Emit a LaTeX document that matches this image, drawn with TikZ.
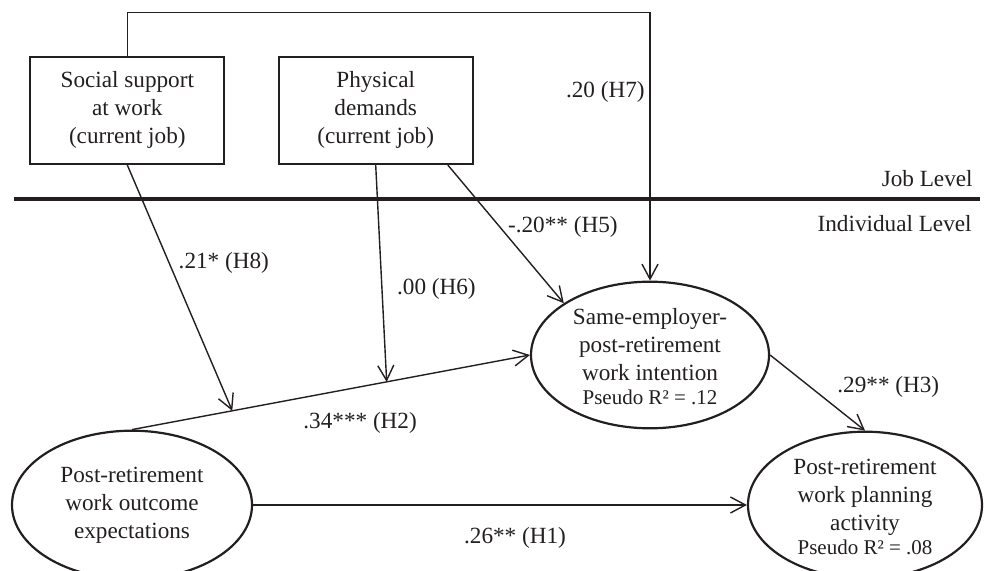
\documentclass[tikz,border=0pt]{standalone}
\usepackage{fontspec}
\setmainfont{Liberation Serif}
\usetikzlibrary{arrows.meta,shapes.geometric,calc}
\definecolor{ink}{HTML}{231F20}
\begin{document}
\begin{tikzpicture}[x=0.5pt,y=-0.5pt,
  every node/.style={text=ink},
  mainfont/.style={font=\fontsize{11.6}{14}\selectfont},
  boxnode/.style={draw=ink,line width=1.1pt,rectangle,minimum width=97pt,minimum height=53.6pt,inner sep=0pt,align=center,mainfont},
  ellnode/.style={draw=ink,line width=1.1pt,ellipse,inner sep=0pt},
  elltext/.style={align=center,mainfont,inner sep=0pt},
  lab/.style={mainfont,inner sep=0pt},
  arr/.style={draw=ink,line width=0.7pt,-{Straight Barb[length=7.5pt,width=8pt]}},
  pseudo/.style={font=\fontsize{10.5}{12}\selectfont}
]
\useasboundingbox (0,0) rectangle (984,571);
% boxes
\node[boxnode] (social) at (127.3,110.3) {Social support\\at work\\(current job)};
\node[boxnode] (phys) at (375.7,110.3) {Physical\\demands\\(current job)};
% level divider
\coordinate (divL) at (14,199.3);
\coordinate (divR) at (980,199.3);
\draw[ink,line width=2pt] (divL) -- (divR);
\node[lab,anchor=base east] (joblev) at (973,187) {Job Level};
\node[lab,anchor=base east] (indlev) at (972,232) {Individual Level};
% ellipses
\node[ellnode,minimum width=119pt,minimum height=73.3pt] (same) at (650,355) {};
\node[elltext] (sameT) at (650,357) {Same-employer-\\post-retirement\\work intention\\[-2pt]{\fontsize{10.5}{12}\selectfont Pseudo R² = .12}};
\node[ellnode,minimum width=120pt,minimum height=74.3pt] (outc) at (132,505) {};
\node[elltext] (outcT) at (132,505) {Post-retirement\\work outcome\\expectations};
\node[ellnode,minimum width=117pt,minimum height=73.3pt] (plan) at (865,505) {};
\node[elltext] (planT) at (865,507) {Post-retirement\\work planning\\activity\\[-2pt]{\fontsize{10.5}{12}\selectfont Pseudo R² = .08}};
% connectors
\draw[arr] (social.north) -- ++(0,-43) -| (same.north);
\draw[arr] (outc.north) -- (same.west)
  coordinate[pos=0.252] (h8pt) coordinate[pos=0.64] (h6pt);
\draw[arr] (social.south) -- (h8pt);
\draw[arr] (phys.south) -- (h6pt);
\coordinate (h5s) at ([xshift=-13pt]phys.south east);
\draw[arr] (h5s) -- (same.149);
\draw[arr] (same.east) -- (plan.north);
\draw[arr] (outc.east) -- (plan.west);
% labels
\node[lab,anchor=base east] (l7) at (645,98) {.20 (H7)};
\node[lab,anchor=base east] (l5) at (618,233) {-.20** (H5)};
\node[lab,anchor=base west] (l8) at (178.3,268.3) {.21* (H8)};
\node[lab,anchor=base west] (l6) at (396.7,295) {.00 (H6)};
\node[lab,anchor=base west] (l2) at (303,428) {.34*** (H2)};
\node[lab,anchor=base west] (l3) at (837,392) {.29** (H3)};
\node[lab,anchor=base] (l1) at (515,543) {.26** (H1)};
\end{tikzpicture}
\end{document}
